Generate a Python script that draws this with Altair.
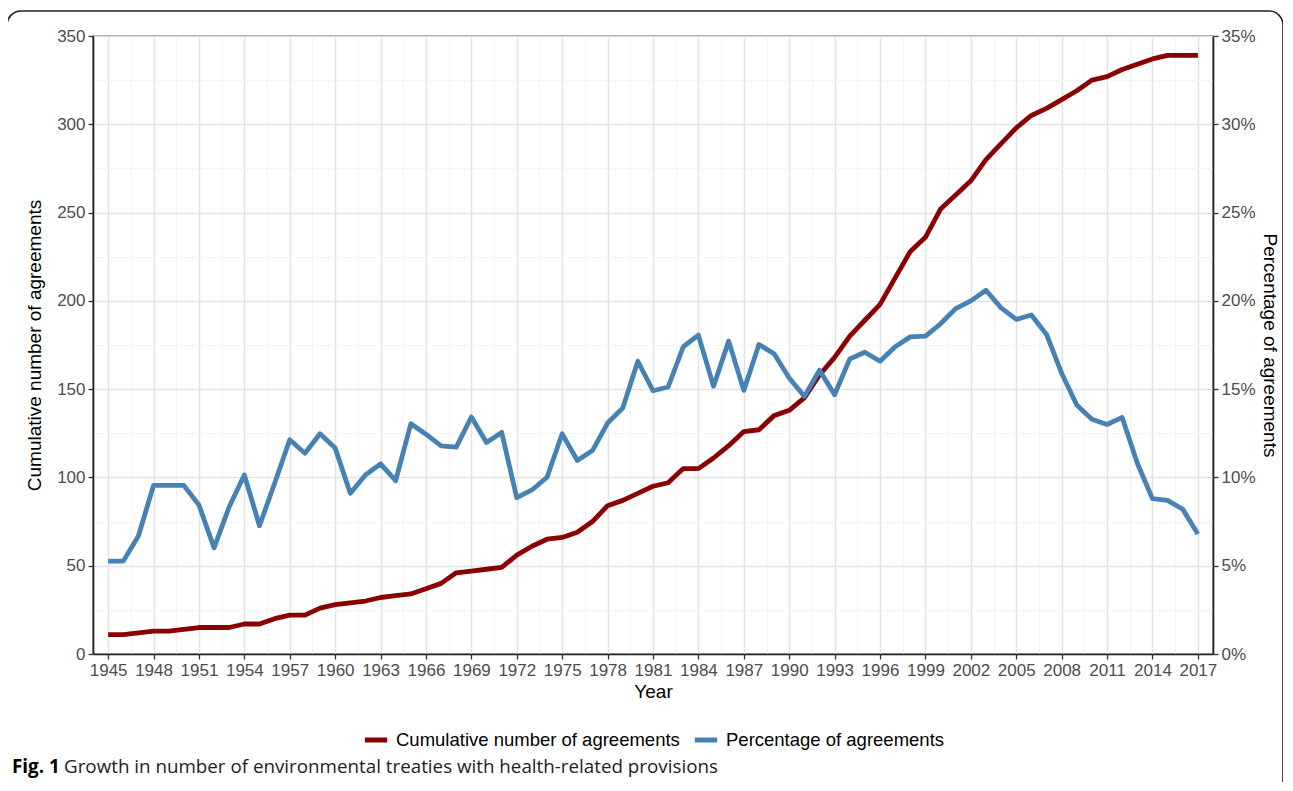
import altair as alt
import pandas as pd

years = list(range(1945, 2018))
cumulative = [11, 11, 12, 13, 13, 14, 15, 15, 15, 17, 17, 20, 22, 22, 26, 28, 29, 30, 32, 33,
              34, 37, 40, 46, 47, 48, 49, 56, 61, 65, 66, 69, 75, 84, 87, 91, 95, 97, 105, 105,
              111, 118, 126, 127, 135, 138, 145, 158, 168, 180, 189, 198, 213, 228, 236, 252, 260, 268, 280, 289,
              298, 305, 309, 314, 319, 325, 327, 331, 334, 337, 339, 339, 339]
percentage = [5.26, 5.26, 6.68, 9.55, 9.55, 9.55, 8.44, 6.01, 8.34, 10.14, 7.26, 9.67, 12.13, 11.37, 12.47, 11.66,
              9.10, 10.14, 10.77, 9.82, 13.04, 12.45, 11.79, 11.72, 13.42, 11.98, 12.55, 8.85, 9.29, 10.01,
              12.47, 10.96, 11.52, 13.08, 13.93, 16.58, 14.91, 15.12, 17.40, 18.06, 15.16, 17.72, 14.93, 17.53,
              17.0, 15.63, 14.59, 16.07, 14.69, 16.71, 17.09, 16.58, 17.4, 17.96, 18.0, 18.7, 19.56, 20.0,
              20.6, 19.6, 18.95, 19.2, 18.1, 15.9, 14.1, 13.3, 13.0, 13.4, 10.8, 8.8, 8.7, 8.2, 6.8]
series_names = ["Cumulative number of agreements", "Percentage of agreements"]
series_colors = ["#8b0000", "#4682b4"]
x_tick_values = [1945 + 1.5 * i for i in range(49)]
left_tick_values = list(range(0, 351, 25))
right_tick_values = list(range(0, 36, 5))
caption_bold = "Fig. 1"
caption_text = "Growth in number of environmental treaties with health-related provisions"

df = pd.DataFrame({"year": years, "cum": cumulative, "pct": percentage})

FONT = "Liberation Sans"
W, H = 1120, 618

xscale = alt.Scale(domain=[1944, 2018], nice=False, zero=False)
cscale = alt.Scale(domain=series_names, range=series_colors)

x_axis = alt.Axis(
    values=x_tick_values, format="d", title="Year",
    labelExpr="(datum.value - 1945) % 3 == 0 ? datum.label : ''",
    tickOpacity={"condition": {"test": "(datum.value - 1945) % 3 != 0", "value": 0}, "value": 1},
    gridColor={"condition": {"test": "(datum.value - 1945) % 3 != 0", "value": "#f2f2f2"}, "value": "#e4e4e4"},
    gridWidth={"condition": {"test": "(datum.value - 1945) % 3 != 0", "value": 0.9}, "value": 1.6},
    grid=True, labelFlush=False, labelOverlap=False, titlePadding=4,
)

left_axis = alt.Axis(
    values=left_tick_values, title="Cumulative number of agreements", orient="left",
    labelExpr="datum.value % 50 == 0 ? datum.label : ''",
    tickOpacity={"condition": {"test": "datum.value % 50 != 0", "value": 0}, "value": 1},
    gridColor={"condition": {"test": "datum.value % 50 != 0", "value": "#f2f2f2"}, "value": "#e4e4e4"},
    gridWidth={"condition": {"test": "datum.value % 50 != 0", "value": 0.9}, "value": 1.6},
    grid=True, titlePadding=12, labelOverlap=False,
)

right_axis = alt.Axis(
    values=right_tick_values, title="Percentage of agreements", orient="right",
    labelExpr="datum.value + '%'", grid=False, titlePadding=4, labelOverlap=False,
)

base = alt.Chart(df)

cum_line = base.transform_calculate(series=f"'{series_names[0]}'").mark_line(
    strokeWidth=4.8, strokeCap="butt", strokeJoin="round").encode(
    x=alt.X("year:Q", scale=xscale, axis=x_axis),
    y=alt.Y("cum:Q", scale=alt.Scale(domain=[0, 350], nice=False), axis=left_axis),
    color=alt.Color("series:N", scale=cscale, legend=alt.Legend(
        title=None, orient="none", direction="horizontal", legendX=269, legendY=690,
        symbolType="stroke", symbolStrokeWidth=5, symbolSize=500, labelLimit=0,
        labelFont=FONT, labelFontSize=18.5, labelColor="#000000", columnPadding=4, labelOffset=6,
    )),
)

pct_line = base.transform_calculate(series=f"'{series_names[1]}'").mark_line(
    strokeWidth=4.8, strokeCap="butt", strokeJoin="round").encode(
    x=alt.X("year:Q", scale=xscale, axis=x_axis),
    y=alt.Y("pct:Q", scale=alt.Scale(domain=[0, 35], nice=False), axis=right_axis),
    color=alt.Color("series:N", scale=cscale),
)

deco = pd.DataFrame({"k": [0]})
frame = alt.Chart(deco).mark_rect(fill=None, stroke="#222222", strokeWidth=1.6, cornerRadius=14).encode(
    x=alt.value(-86), x2=alt.value(1190), y=alt.value(-25), y2=alt.value(780),
)

cap1 = alt.Chart(deco).mark_text(align="left", baseline="alphabetic", font="Open Sans",
                                 fontWeight="bold", fontSize=18.8, color="#000000").encode(
    x=alt.value(-81), y=alt.value(737), text=alt.value(caption_bold),
)
cap2 = alt.Chart(deco).mark_text(align="left", baseline="alphabetic", font="Open Sans",
                                 fontSize=18.8, color="#222222").encode(
    x=alt.value(-29), y=alt.value(737), text=alt.value(caption_text),
)

chart = alt.layer(cum_line, pct_line, frame, cap1, cap2).resolve_scale(
    y="independent"
).properties(
    width=W, height=H,
    autosize=alt.AutoSizeParams(type="none"),
    padding={"left": 85, "top": 28, "right": 70, "bottom": 128},
).configure_view(
    stroke="#333333", strokeWidth=1.3,
).configure_axis(
    labelFont=FONT, labelFontSize=17, labelColor="#4d4d4d", labelPadding=3,
    titleFont=FONT, titleFontSize=19, titleFontWeight="normal", titleColor="#000000",
    domainColor="#222222", domainWidth=1.6, tickColor="#333333", tickWidth=1.3, tickSize=5,
)

chart.save("out.html", embed_options={"renderer": "svg", "actions": False})
